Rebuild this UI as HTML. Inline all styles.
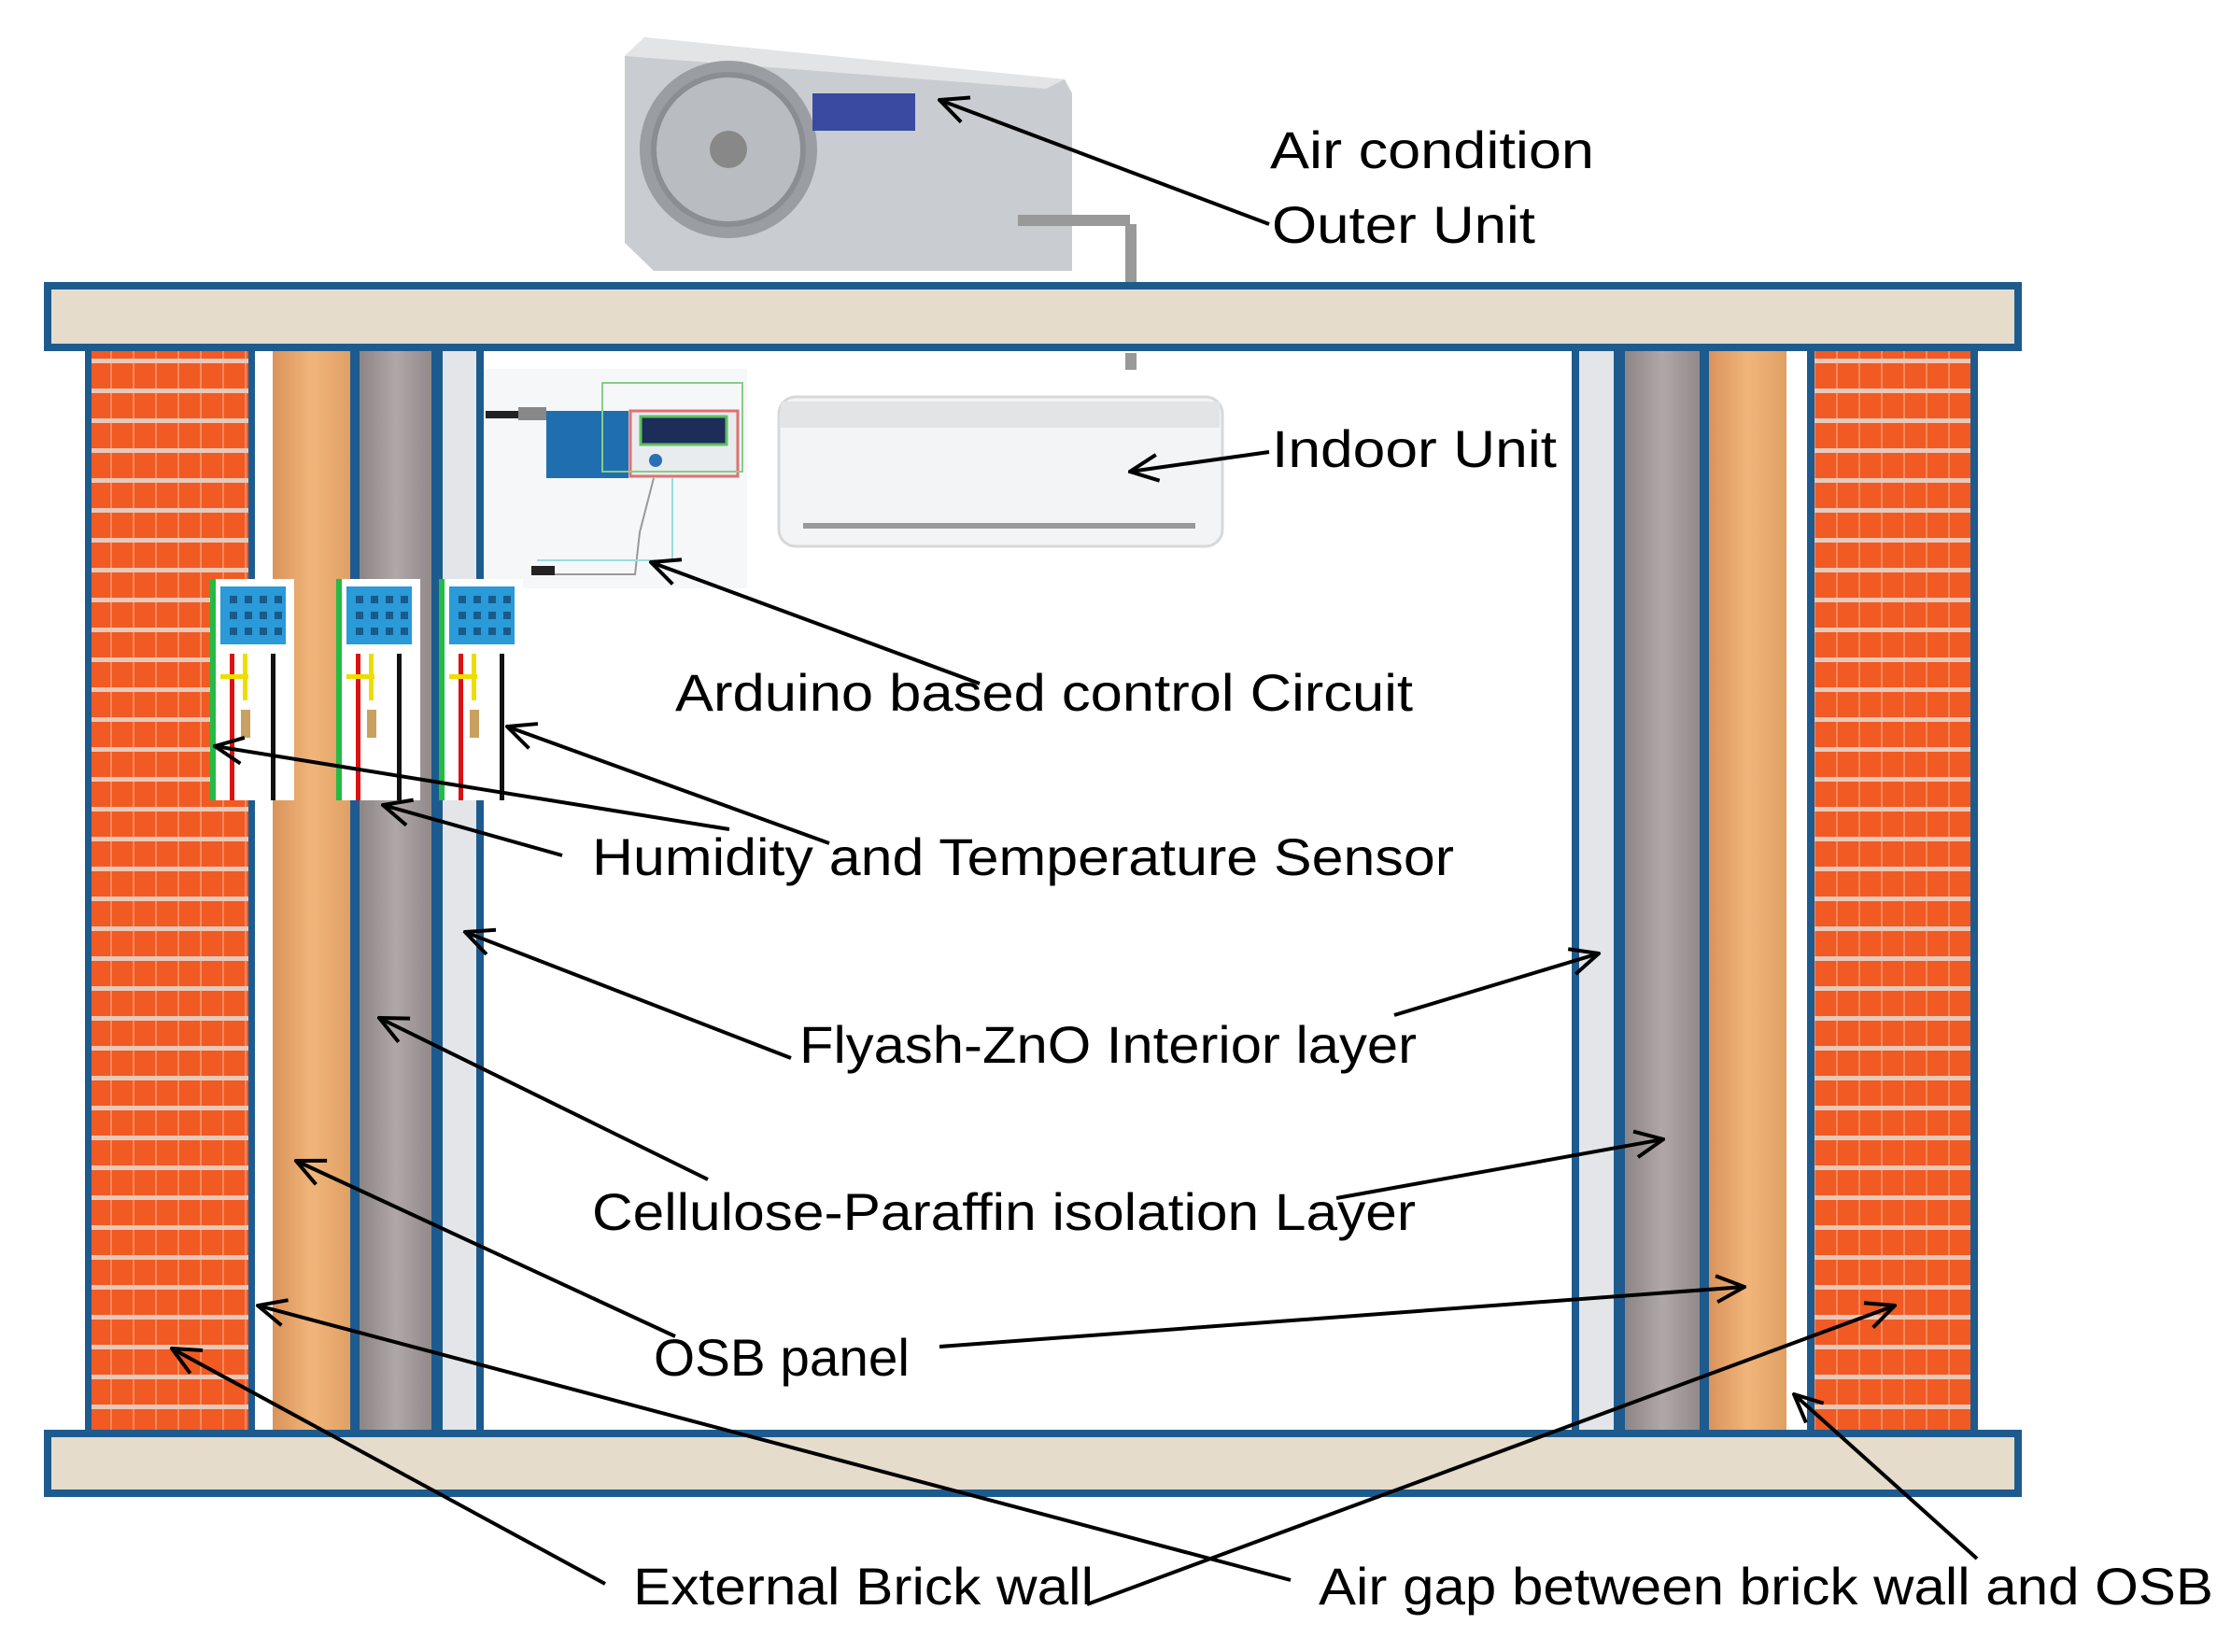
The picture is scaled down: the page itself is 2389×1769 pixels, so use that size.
<!DOCTYPE html>
<html><head><meta charset="utf-8"><style>html,body{margin:0;padding:0;background:#fff}svg{display:block}</style></head>
<body>
<svg width="2389" height="1769" viewBox="0 0 2389 1769" xmlns="http://www.w3.org/2000/svg" font-family="Liberation Sans, sans-serif">
<defs>
<pattern id="brick" width="24" height="32" patternUnits="userSpaceOnUse">
<rect width="24" height="32" fill="#f15a22"/>
<rect y="0" width="24" height="5" fill="#e8c8b8"/>
<rect x="22" y="5" width="2" height="27" fill="#f48a60"/>
</pattern>
<linearGradient id="osb" x1="0" x2="1"><stop offset="0" stop-color="#d9935a"/><stop offset="0.5" stop-color="#f1b57a"/><stop offset="1" stop-color="#e0a064"/></linearGradient>
<linearGradient id="cel" x1="0" x2="1"><stop offset="0" stop-color="#8d8585"/><stop offset="0.5" stop-color="#b0a8a8"/><stop offset="1" stop-color="#928a8a"/></linearGradient>
<marker id="ah" markerWidth="14" markerHeight="14" refX="12" refY="7" orient="auto" markerUnits="userSpaceOnUse" viewBox="0 0 14 14">
<path d="M0,0 L12,7 L0,14" fill="none" stroke="#000" stroke-width="3"/>
</marker>
<marker id="ah2" markerWidth="36" markerHeight="36" refX="34" refY="18" orient="auto" markerUnits="userSpaceOnUse" viewBox="0 0 36 36">
<path d="M4,4 L34,18 L4,32" fill="none" stroke="#000" stroke-width="4"/>
</marker>
</defs>

<!-- outdoor unit -->
<g>
<path d="M669,60 L690,40 L1140,85 L1148,100 L1148,290 L700,290 L669,260 Z" fill="#c9ccd0"/>
<path d="M669,60 L690,40 L1140,85 L1120,95 Z" fill="#e2e4e6"/>
<circle cx="780" cy="160" r="95" fill="#9a9ea3"/>
<circle cx="780" cy="160" r="80" fill="#b9bcc0" stroke="#8a8e93" stroke-width="6"/>
<circle cx="780" cy="160" r="20" fill="#888"/>
<rect x="870" y="100" width="110" height="40" fill="#3a4aa0"/>
<rect x="1090" y="230" width="120" height="12" fill="#999"/>
<rect x="1205" y="240" width="12" height="65" fill="#999"/>
<rect x="1205" y="378" width="12" height="18" fill="#999"/>
</g>

<!-- top beam -->
<rect x="51" y="306" width="2110" height="66" fill="#e6dccb" stroke="#1d5b8f" stroke-width="8"/>
<!-- bottom beam -->
<rect x="51" y="1535" width="2110" height="64" fill="#e6dccb" stroke="#1d5b8f" stroke-width="8"/>

<!-- left wall -->
<rect x="91" y="376" width="182" height="1155" fill="#1d5b8f"/>
<rect x="98" y="376" width="168" height="1155" fill="url(#brick)"/>
<rect x="292" y="376" width="83" height="1155" fill="url(#osb)"/>
<rect x="375" y="376" width="10" height="1155" fill="#1d5b8f"/>
<rect x="385" y="376" width="77" height="1155" fill="url(#cel)"/>
<rect x="462" y="376" width="12" height="1155" fill="#1d5b8f"/>
<rect x="474" y="376" width="36" height="1155" fill="#e3e5e8"/>
<rect x="510" y="376" width="8" height="1155" fill="#1d5b8f"/>

<!-- right wall -->
<rect x="1683" y="376" width="8" height="1155" fill="#1d5b8f"/>
<rect x="1691" y="376" width="37" height="1155" fill="#e3e5e8"/>
<rect x="1728" y="376" width="12" height="1155" fill="#1d5b8f"/>
<rect x="1740" y="376" width="80" height="1155" fill="url(#cel)"/>
<rect x="1820" y="376" width="10" height="1155" fill="#1d5b8f"/>
<rect x="1830" y="376" width="83" height="1155" fill="url(#osb)"/>
<rect x="1935" y="376" width="183" height="1155" fill="#1d5b8f"/>
<rect x="1943" y="376" width="167" height="1155" fill="url(#brick)"/>

<!-- arduino circuit -->
<g>
<rect x="518" y="395" width="282" height="235" fill="#f6f7f8"/>
<rect x="585" y="440" width="88" height="72" fill="#1f6fb0"/>
<rect x="520" y="440" width="35" height="8" fill="#222"/>
<rect x="555" y="436" width="30" height="14" fill="#888"/>
<rect x="675" y="440" width="115" height="70" fill="#e8ecef" stroke="#e07070" stroke-width="3"/>
<rect x="686" y="446" width="92" height="30" fill="#1c2d5a" stroke="#60c060" stroke-width="3"/>
<circle cx="702" cy="493" r="7" fill="#2a6fb5"/>
<rect x="645" y="410" width="150" height="95" fill="none" stroke="#88cc88" stroke-width="2"/>
<path d="M700,512 L685,570 L680,615 L570,615" fill="none" stroke="#999" stroke-width="2"/>
<path d="M720,512 L720,600 L575,600" fill="none" stroke="#9dd" stroke-width="2"/>
<rect x="569" y="606" width="25" height="10" fill="#222"/>
</g>

<!-- indoor unit -->
<g>
<rect x="834" y="425" width="475" height="160" rx="18" fill="#f3f4f5" stroke="#d6d8da" stroke-width="3"/>
<rect x="836" y="430" width="470" height="28" fill="#e2e4e6"/>
<rect x="860" y="560" width="420" height="6" fill="#999"/>
</g>

<!-- sensors -->
<g id="s">
<rect x="225" y="620" width="90" height="237" fill="#fff"/>
<rect x="225" y="620" width="6" height="237" fill="#22bb44"/>
<rect x="236" y="628" width="70" height="62" fill="#2a9ad8"/>
<g fill="#1a5a8a"><rect x="246" y="638" width="8" height="8"/><rect x="262" y="638" width="8" height="8"/><rect x="278" y="638" width="8" height="8"/><rect x="294" y="638" width="8" height="8"/><rect x="246" y="655" width="8" height="8"/><rect x="262" y="655" width="8" height="8"/><rect x="278" y="655" width="8" height="8"/><rect x="294" y="655" width="8" height="8"/><rect x="246" y="672" width="8" height="8"/><rect x="262" y="672" width="8" height="8"/><rect x="278" y="672" width="8" height="8"/><rect x="294" y="672" width="8" height="8"/></g>
<rect x="246" y="700" width="5" height="157" fill="#dd1111"/>
<rect x="260" y="700" width="5" height="50" fill="#eedd00"/>
<rect x="236" y="722" width="30" height="5" fill="#eedd00"/>
<rect x="258" y="760" width="10" height="30" fill="#c8a060"/>
<rect x="290" y="700" width="5" height="157" fill="#111"/>
</g>
<use href="#s" x="135"/>
<use href="#s" x="245"/>

<!-- arrows -->
<g stroke="#000" stroke-width="4" fill="none" marker-end="url(#ah2)">
<line x1="1359" y1="240" x2="1006" y2="107"/>
<line x1="1359" y1="484" x2="1210" y2="505"/>
<line x1="1049" y1="732" x2="697" y2="602"/>
<line x1="781" y1="888" x2="230" y2="799"/>
<line x1="888" y1="903" x2="543" y2="778"/>
<line x1="602" y1="916" x2="410" y2="862"/>
<line x1="847" y1="1133" x2="498" y2="998"/>
<line x1="1493" y1="1087" x2="1712" y2="1021"/>
<line x1="758" y1="1263" x2="406" y2="1090"/>
<line x1="1431" y1="1283" x2="1781" y2="1220"/>
<line x1="723" y1="1431" x2="317" y2="1243"/>
<line x1="1006" y1="1442" x2="1868" y2="1378"/>
<line x1="648" y1="1696" x2="184" y2="1444"/>
<line x1="1164" y1="1718" x2="2029" y2="1398"/>
<line x1="1382" y1="1692" x2="276" y2="1398"/>
<line x1="2117" y1="1669" x2="1921" y2="1493"/>
</g>

<!-- labels -->
<g font-size="56" fill="#000">
<text x="1360" y="180" textLength="347" lengthAdjust="spacingAndGlyphs">Air condition</text>
<text x="1362" y="260" textLength="282" lengthAdjust="spacingAndGlyphs">Outer Unit</text>
<text x="1362" y="500" textLength="305" lengthAdjust="spacingAndGlyphs">Indoor Unit</text>
<text x="723" y="761" textLength="790" lengthAdjust="spacingAndGlyphs">Arduino based control Circuit</text>
<text x="634" y="937" textLength="923" lengthAdjust="spacingAndGlyphs">Humidity and Temperature Sensor</text>
<text x="856" y="1138" textLength="661" lengthAdjust="spacingAndGlyphs">Flyash-ZnO Interior layer</text>
<text x="634" y="1317" textLength="882" lengthAdjust="spacingAndGlyphs">Cellulose-Paraffin isolation Layer</text>
<text x="700" y="1473" textLength="274" lengthAdjust="spacingAndGlyphs">OSB panel</text>
<text x="678" y="1718" textLength="493" lengthAdjust="spacingAndGlyphs">External Brick wall</text>
<text x="1412" y="1718" textLength="958" lengthAdjust="spacingAndGlyphs">Air gap between brick wall and OSB</text>
</g>
</svg>
</body></html>
